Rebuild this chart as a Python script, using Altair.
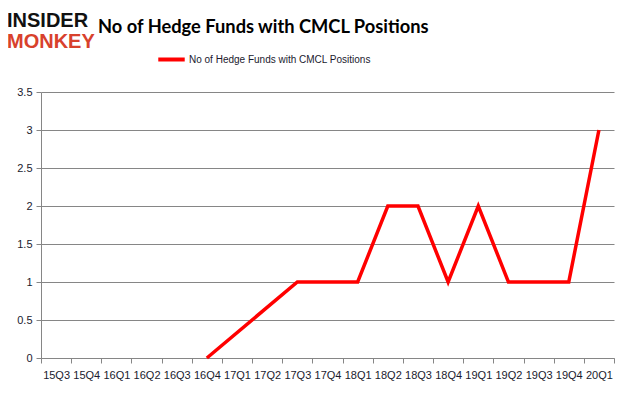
import altair as alt
import pandas as pd

quarters = ["15Q3", "15Q4", "16Q1", "16Q2", "16Q3", "16Q4", "17Q1", "17Q2", "17Q3", "17Q4",
            "18Q1", "18Q2", "18Q3", "18Q4", "19Q1", "19Q2", "19Q3", "19Q4", "20Q1"]
funds = [None, None, None, None, None, 0, None, None, 1, 1,
         1, 2, 2, 1, 2, 1, 1, 1, 3]
series_name = "No of Hedge Funds with CMCL Positions"
title_text = "No of Hedge Funds with CMCL Positions"

df = pd.DataFrame({"quarter": quarters, "funds": funds, "series": series_name})

x_enc = alt.X("quarter:N", sort=quarters, bandPosition=0.5,
              scale=alt.Scale(type="band", domain=quarters, paddingInner=0, paddingOuter=0),
              axis=alt.Axis(title=None, tickBand="extent", labelAngle=0, grid=False,
                            domainColor="#868686", tickColor="#868686", tickSize=5,
                            labelColor="#1a1a2e", labelFont="Liberation Sans",
                            labelFontSize=11, labelPadding=6, labelOverlap=False))

line = alt.Chart(df).transform_filter("isValid(datum.funds)").mark_line(
    strokeWidth=3.5, color="#ff0000"
).encode(
    x=x_enc,
    y=alt.Y("funds:Q", scale=alt.Scale(domain=[0, 3.5], nice=False),
            axis=alt.Axis(title=None, values=[0, 0.5, 1, 1.5, 2, 2.5, 3, 3.5],
                          format="~g", gridColor="#868686", gridWidth=1,
                          domainColor="#868686", tickColor="#868686", tickSize=5,
                          labelColor="#1a1a2e", labelFont="Liberation Sans",
                          labelFontSize=11, labelPadding=4)),
    color=alt.Color("series:N", scale=alt.Scale(range=["#ff0000"]),
                    legend=alt.Legend(title=None, orient="none", legendX=115, legendY=-48,
                                      symbolType="stroke", symbolSize=700,
                                      symbolStrokeWidth=4, labelFont="Liberation Sans",
                                      labelFontSize=10, labelColor="#1a1a2e",
                                      labelOffset=2, labelLimit=0)),
)

txt = pd.DataFrame({"t": [title_text]})
title = alt.Chart(txt).mark_text(align="left", baseline="alphabetic", font="Lato",
                                 fontSize=18.3, fontWeight="bold", color="#000000").encode(
    x=alt.value(57), y=alt.value(-59), text="t:N")

logo1 = alt.Chart(pd.DataFrame({"t": ["INSIDER"]})).mark_text(
    align="left", baseline="alphabetic", font="Liberation Sans", fontSize=20,
    fontWeight="bold", color="#111111").encode(x=alt.value(-34), y=alt.value(-65), text="t:N")
logo2 = alt.Chart(pd.DataFrame({"t": ["MONKEY"]})).mark_text(
    align="left", baseline="alphabetic", font="Liberation Sans", fontSize=20,
    fontWeight="bold", color="#d8412c").encode(x=alt.value(-34), y=alt.value(-44), text="t:N")

chart = alt.layer(line, title, logo1, logo2).properties(
    width=573, height=266,
    autosize=alt.AutoSizeParams(type="none"),
    padding={"left": 33, "top": 84, "right": 12, "bottom": 30},
    background="#ffffff",
).configure_view(stroke=None)

chart.save("out.html", embed_options={"renderer": "svg", "actions": False})
